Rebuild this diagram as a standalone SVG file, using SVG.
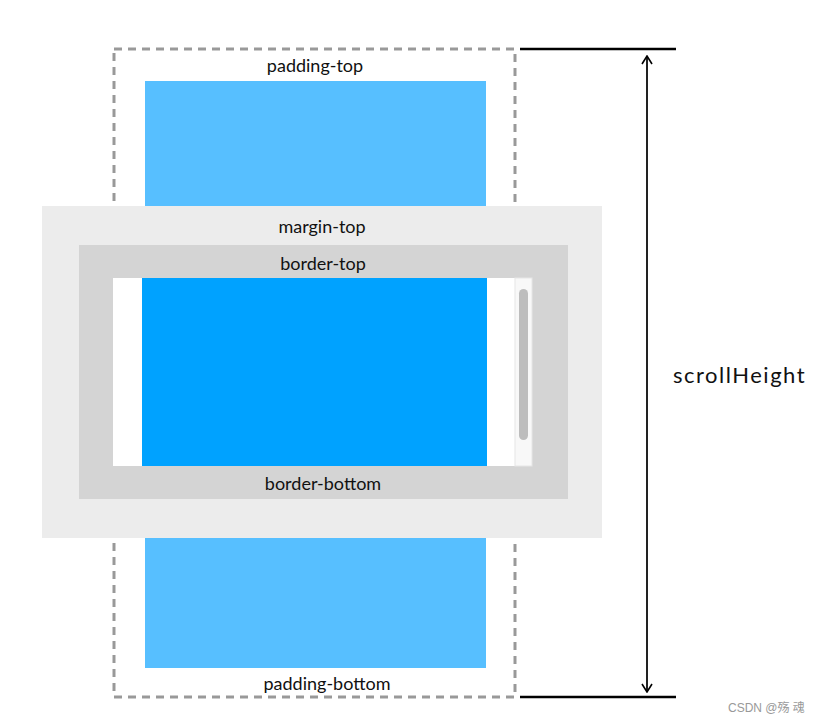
<svg xmlns="http://www.w3.org/2000/svg" width="820" height="723" viewBox="0 0 820 723">
<style>
.lbl{font-family:"Lato","Open Sans",sans-serif;font-size:18px;fill:#111;text-anchor:middle}
.hand{font-family:"Lato","DejaVu Sans",sans-serif;font-size:22px;fill:#111;letter-spacing:1.5px}
.line{stroke:#000;stroke-width:2.5;fill:none}
</style>
<defs>
<marker id="ah" viewBox="0 0 12 12" refX="11" refY="6" markerWidth="12" markerHeight="12" markerUnits="userSpaceOnUse" orient="auto-start-reverse">
<path d="M3,1 L11,6 L3,11" fill="none" stroke="#000" stroke-width="1.6"/>
</marker>
</defs>
<rect width="820" height="723" fill="#fff"/>
<g id="padding-box">
<rect x="114" y="49" width="401" height="648" fill="none" stroke="#999" stroke-width="3" stroke-dasharray="8,6"/>
<rect x="145" y="81" width="341" height="125" fill="#57bfff"/>
<rect x="145" y="538" width="341" height="130" fill="#57bfff"/>
<text class="lbl" x="315" y="72">padding-top</text>
<text class="lbl" x="327" y="690">padding-bottom</text>
</g>
<g id="margin-box">
<rect x="42" y="206" width="560" height="332" fill="#ececec"/>
<text class="lbl" x="322" y="233">margin-top</text>
</g>
<g id="border-box">
<rect x="79" y="245" width="489" height="254" fill="#d4d4d4"/>
<text class="lbl" x="323" y="270">border-top</text>
<text class="lbl" x="323" y="490">border-bottom</text>
</g>
<g id="content-box">
<rect x="113" y="278" width="419" height="188" fill="#fff"/>
<rect x="142" y="278" width="345" height="188" fill="#00a2ff"/>
<rect x="515" y="278" width="17" height="188" fill="#f8f8f8" stroke="#e6e6e6" stroke-width="1"/>
<rect x="519" y="289" width="9" height="151" rx="4.5" fill="#bdbdbd"/>
</g>
<g id="connectors">
<line class="line" x1="520" y1="49" x2="676" y2="49"/>
<line class="line" x1="520" y1="697" x2="676" y2="697"/>
<line x1="647" y1="56" x2="647" y2="692" stroke="#222" stroke-width="2" marker-start="url(#ah)" marker-end="url(#ah)"/>
</g>
<g id="scrollheight-label">
<text class="hand" x="673" y="383">scrollHeight</text>
</g>
<text x="728" y="712" font-family="'Liberation Sans','Noto Sans CJK SC',sans-serif" font-size="12" fill="#999">CSDN @殇 魂</text>
</svg>
